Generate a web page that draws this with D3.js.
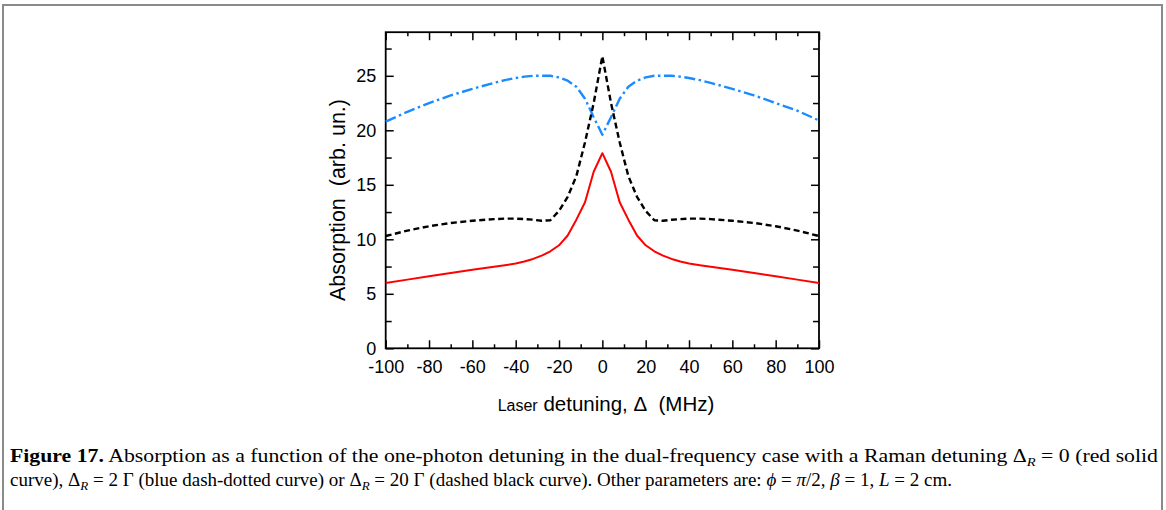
<!DOCTYPE html>
<html>
<head>
<meta charset="utf-8">
<script src="https://cdn.jsdelivr.net/npm/d3@7"></script>
<style>
  body { margin: 0; background: #fff; }
  svg { display: block; }
</style>
</head>
<body>
<div id="chart"></div>
<script>
// detuning values (MHz), shared by all three curves
const detuning = [-100, -90, -80, -70, -60, -50, -45, -40, -36, -32, -28, -24, -20, -16, -12, -8, -4,
                  0, 4, 8, 12, 16, 20, 24, 28, 32, 36, 40, 45, 50, 60, 70, 80, 90, 100]

// Raman detuning 0 (red solid)
const redSolid = [6.0, 6.3, 6.6, 6.9, 7.2, 7.48, 7.62, 7.78, 7.96, 8.2, 8.5, 8.9, 9.45, 10.35, 11.8, 13.4, 16.2,
                  17.9, 16.2, 13.4, 11.8, 10.35, 9.45, 8.9, 8.5, 8.2, 7.96, 7.78, 7.62, 7.48, 7.2, 6.9, 6.6, 6.3, 6.0]

// Raman detuning 2 Gamma (blue dash-dot)
const blueDashDot = [20.8, 21.7, 22.5, 23.2, 23.8, 24.35, 24.6, 24.8, 24.92, 25.0, 25.0, 25.0, 24.85, 24.55, 24.0, 22.9, 21.2,
                     19.6, 21.2, 22.9, 24.0, 24.55, 24.85, 25.0, 25.0, 25.0, 24.92, 24.8, 24.6, 24.35, 23.8, 23.2, 22.5, 21.8, 20.9]

// Raman detuning 20 Gamma (black dashed)
const blackDashed = [10.3, 10.8, 11.2, 11.5, 11.7, 11.85, 11.9, 11.9, 11.85, 11.8, 11.7, 11.75, 12.6, 13.9, 15.8, 18.9, 22.5,
                     26.8, 22.5, 18.9, 15.8, 13.9, 12.6, 11.75, 11.7, 11.8, 11.85, 11.9, 11.9, 11.85, 11.7, 11.5, 11.2, 10.8, 10.3]

const xTicks = [-100, -80, -60, -40, -20, 0, 20, 40, 60, 80, 100]
const xMinor = [-90, -70, -50, -30, -10, 10, 30, 50, 70, 90]
const yTicks = [0, 5, 10, 15, 20, 25]
const yMinor = [2.5, 7.5, 12.5, 17.5, 22.5, 27.5]

const width = 1166
const height = 510
const plotLeft = 385.7, plotRight = 819, plotTop = 32.2, plotBottom = 348.3

const sans = 'Liberation Sans'
const serif = 'Liberation Serif'

const svg = d3.select('#chart')
              .append('svg')
              .attr('width', width)
              .attr('height', height)

// figure frame (open at the bottom)
svg.append('path')
   .attr('d', `M3,${height} V5 H1162 V${height}`)
   .attr('fill', 'none')
   .attr('stroke', '#8a8a8a')
   .attr('stroke-width', 2)

let x = d3.scaleLinear().domain([-100, 100]).range([plotLeft, plotRight])
let y = d3.scaleLinear().domain([0, 29]).range([plotBottom, plotTop])

const styleAxis = (g) => {
    g.attr('font-family', sans).attr('font-size', 18)
    g.select('.domain').remove()
    g.selectAll('line').attr('stroke', '#000').attr('stroke-width', 1.5)
    g.selectAll('text').attr('fill', '#000')
}

// bottom axis with labels
svg.append('g')
   .attr('transform', `translate(0,${plotBottom})`)
   .call(d3.axisBottom(x).tickValues(xTicks).tickSize(-8).tickPadding(12).tickFormat(d => String(d)))
   .call(styleAxis)
svg.append('g')
   .attr('transform', `translate(0,${plotBottom})`)
   .call(d3.axisBottom(x).tickValues(xMinor).tickSize(-4).tickFormat(''))
   .call(styleAxis)
// top axis
svg.append('g')
   .attr('transform', `translate(0,${plotTop})`)
   .call(d3.axisTop(x).tickValues(xTicks).tickSize(-8).tickFormat(''))
   .call(styleAxis)
svg.append('g')
   .attr('transform', `translate(0,${plotTop})`)
   .call(d3.axisTop(x).tickValues(xMinor).tickSize(-4).tickFormat(''))
   .call(styleAxis)
// left axis with labels
svg.append('g')
   .attr('transform', `translate(${plotLeft},0)`)
   .call(d3.axisLeft(y).tickValues(yTicks).tickSize(-8).tickPadding(9.5).tickFormat(d => String(d)))
   .call(styleAxis)
svg.append('g')
   .attr('transform', `translate(${plotLeft},0)`)
   .call(d3.axisLeft(y).tickValues(yMinor).tickSize(-6).tickFormat(''))
   .call(styleAxis)
// right axis
svg.append('g')
   .attr('transform', `translate(${plotRight},0)`)
   .call(d3.axisRight(y).tickValues(yTicks).tickSize(-8).tickFormat(''))
   .call(styleAxis)
svg.append('g')
   .attr('transform', `translate(${plotRight},0)`)
   .call(d3.axisRight(y).tickValues(yMinor).tickSize(-6).tickFormat(''))
   .call(styleAxis)

// plot box
svg.append('rect')
   .attr('x', plotLeft)
   .attr('y', plotTop)
   .attr('width', plotRight - plotLeft)
   .attr('height', plotBottom - plotTop)
   .attr('fill', 'none')
   .attr('stroke', '#000')
   .attr('stroke-width', 1.8)

let line = d3.line()
             .x((d, i) => x(detuning[i]))
             .y(d => y(d))

const series = [
    { values: blueDashDot, color: '#1a8cff', width: 2.4, dash: '11,3.5,2.5,3.5' },
    { values: blackDashed, color: '#000', width: 2.4, dash: '6,3.5' },
    { values: redSolid, color: '#ff0000', width: 2, dash: null }
]

series.forEach(s => {
    svg.append('path')
       .attr('d', line(s.values))
       .attr('fill', 'none')
       .attr('stroke', s.color)
       .attr('stroke-width', s.width)
       .attr('stroke-dasharray', s.dash)
       .attr('stroke-linejoin', 'round')
})

// axis titles
let xTitle = svg.append('text')
                .attr('x', 606)
                .attr('y', 411)
                .attr('text-anchor', 'middle')
                .attr('font-family', sans)
                .attr('font-size', 20.5)
xTitle.append('tspan').attr('font-size', 16).text('Laser')
xTitle.append('tspan').text(' detuning, Δ\u00a0\u00a0(MHz)')

svg.append('text')
   .attr('transform', 'translate(345,200) rotate(-90)')
   .attr('text-anchor', 'middle')
   .attr('font-family', sans)
   .attr('font-size', 21.5)
   .text('Absorption\u00a0\u00a0(arb. un.)')

// caption
const sub = (t, s) => t.append('tspan').attr('dy', 4).attr('font-style', 'italic').attr('font-size', 13).text(s)
let cap1 = svg.append('text')
              .attr('x', 10)
              .attr('y', 462)
              .attr('textLength', 1148)
              .attr('lengthAdjust', 'spacingAndGlyphs')
              .attr('font-family', serif)
              .attr('font-size', 19.5)
cap1.append('tspan').attr('font-weight', 'bold').text('Figure 17.')
cap1.append('tspan').text(' Absorption as a function of the one-photon detuning in the dual-frequency case with a Raman detuning Δ')
sub(cap1, 'R')
cap1.append('tspan').attr('dy', -4).text(' = 0 (red solid')

let cap2 = svg.append('text')
              .attr('x', 10)
              .attr('y', 486)
              .attr('font-family', serif)
              .attr('font-size', 19)
cap2.append('tspan').text('curve), Δ')
sub(cap2, 'R')
cap2.append('tspan').attr('dy', -4).text(' = 2 Γ (blue dash-dotted curve) or Δ')
sub(cap2, 'R')
cap2.append('tspan').attr('dy', -4).text(' = 20 Γ (dashed black curve). Other parameters are: ')
cap2.append('tspan').attr('font-style', 'italic').text('ϕ')
cap2.append('tspan').text(' = ')
cap2.append('tspan').attr('font-style', 'italic').text('π')
cap2.append('tspan').text('/2, ')
cap2.append('tspan').attr('font-style', 'italic').text('β')
cap2.append('tspan').text(' = 1, ')
cap2.append('tspan').attr('font-style', 'italic').text('L')
cap2.append('tspan').text(' = 2 cm.')
</script>
</body>
</html>
